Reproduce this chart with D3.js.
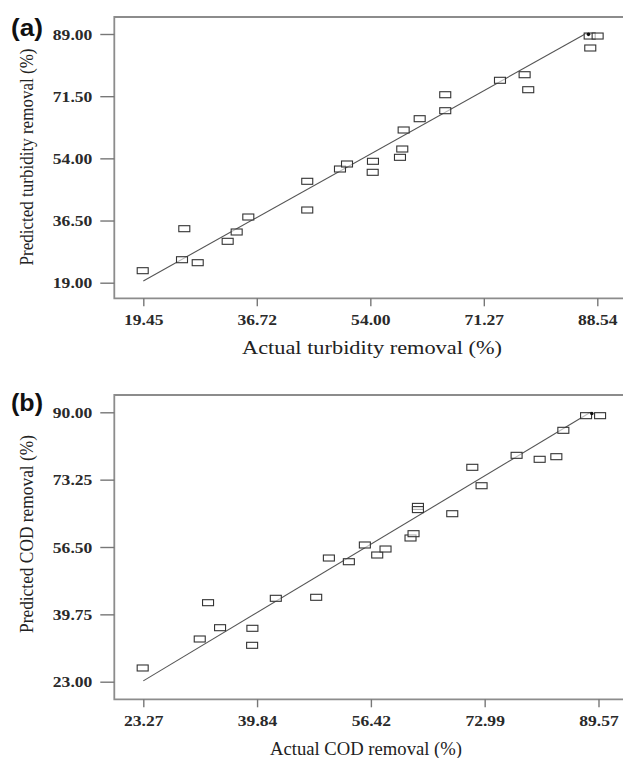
<!DOCTYPE html>
<html>
<head>
<meta charset="utf-8">
<script src="https://cdn.jsdelivr.net/npm/d3@7"></script>
<style>
  body { margin: 0; background: #fff; }
  svg { display: block; }
</style>
</head>
<body>
<div id="chart"></div>
<script>
// panel (a) - turbidity
var turbActual = [19.36, 25.69, 25.34, 27.73, 32.29, 33.66, 35.43, 44.40, 44.40, 49.38, 50.45, 54.40, 54.36,
  58.51, 58.86, 59.07, 61.51, 65.40, 65.40, 73.73, 77.48, 78.03, 87.38, 88.59, 87.47];
var turbPred = [22.38, 34.20, 25.47, 24.63, 30.65, 33.27, 37.49, 47.54, 39.46, 51.00, 52.41, 53.17, 50.07,
  54.29, 56.63, 61.98, 65.16, 67.41, 71.91, 75.97, 77.54, 73.32, 88.43, 88.43, 85.06];
var turbXTicks = [19.45, 36.72, 54.00, 71.27, 88.54];
var turbYTicks = [19.00, 36.50, 54.00, 71.50, 89.00];
var turbFitX = [19.45, 86.9], turbFitY = [19.5, 89.2];
var turbMark = [87.2, 88.9];

// panel (b) - COD
var codActual = [23.18, 31.49, 32.70, 34.45, 39.16, 39.12, 42.57, 48.45, 50.30, 53.21, 55.54, 57.34, 58.55,
  62.19, 62.63, 63.27, 63.27, 68.27, 71.19, 72.54, 77.64, 81.00, 83.43, 84.45, 87.76, 89.80];
var codPred = [26.41, 33.62, 42.65, 36.43, 36.28, 32.05, 43.74, 43.99, 53.76, 52.84, 57.00, 54.51, 56.00,
  58.74, 59.81, 66.6, 65.8, 64.78, 76.32, 71.74, 79.30, 78.31, 78.96, 85.52, 89.16, 89.16];
var codXTicks = [23.27, 39.84, 56.42, 72.99, 89.57];
var codYTicks = [23.00, 39.75, 56.50, 73.25, 90.00];
var codFitX = [23.27, 88.4], codFitY = [23.2, 90.0];
var codMark = [88.6, 89.7];

var W = 623, H = 758;
var serif = "'Liberation Serif', 'Times New Roman', serif";
var stretch = 1.17; // the source image is a bit wide

var svg = d3.select("#chart").append("svg")
    .attr("width", W)
    .attr("height", H);

function panel(opt) {
  var g = svg.append("g");
  var left = 114.3, top = opt.top, bottom = opt.bottom;

  var x = d3.scaleLinear().domain(opt.xDomain).range([143.3, opt.xEnd]);
  var y = d3.scaleLinear().domain(opt.yDomain).range(opt.yRange);

  // frame (right side runs off the picture)
  g.append("path")
      .attr("d", "M" + (W + 5) + "," + top + "H" + left + "V" + bottom + "H" + (W + 5))
      .attr("fill", "none")
      .attr("stroke", "#8c8c8c")
      .attr("stroke-width", 1.8);

  var xAxis = g.append("g")
      .attr("transform", "translate(0," + bottom + ")")
      .call(d3.axisBottom(x).tickValues(opt.xTicks).tickFormat(d3.format(".2f")).tickSize(8).tickSizeOuter(0));
  xAxis.select(".domain").remove();
  xAxis.selectAll("line").attr("stroke", "#777").attr("stroke-width", 1.4);
  xAxis.selectAll("text")
      .attr("y", 27).attr("dy", null)
      .attr("transform", "scale(" + stretch + ",1)")
      .attr("font-family", serif).attr("font-size", 15).attr("font-weight", "bold")
      .attr("fill", "#2a2a2a");

  var yAxis = g.append("g")
      .attr("transform", "translate(" + left + ",0)")
      .call(d3.axisLeft(y).tickValues(opt.yTicks).tickFormat(d3.format(".2f")).tickSize(14).tickSizeOuter(0));
  yAxis.select(".domain").remove();
  yAxis.selectAll("line").attr("stroke", "#777").attr("stroke-width", 1.4);
  yAxis.selectAll("text")
      .attr("x", -22 / stretch).attr("dy", "0.35em")
      .attr("transform", "scale(" + stretch + ",1)")
      .attr("font-family", serif).attr("font-size", 15).attr("font-weight", "bold")
      .attr("fill", "#2a2a2a");

  // fit line
  g.append("line")
      .attr("x1", x(opt.fitX[0])).attr("y1", y(opt.fitY[0]))
      .attr("x2", x(opt.fitX[1])).attr("y2", y(opt.fitY[1]))
      .attr("stroke", "#555")
      .attr("stroke-width", 1.1);

  // points
  var pts = d3.zip(opt.xs, opt.ys);
  g.selectAll("rect.pt")
    .data(pts)
    .enter().append("rect")
      .attr("class", "pt")
      .attr("x", function(d) { return x(d[0]) - 5.5; })
      .attr("y", function(d) { return y(d[1]) - 3; })
      .attr("width", 11)
      .attr("height", 6)
      .attr("fill", "#fff")
      .attr("fill-opacity", 0.6)
      .attr("stroke", "#333")
      .attr("stroke-width", 1.1);

  g.append("circle")
      .attr("cx", x(opt.mark[0])).attr("cy", y(opt.mark[1]))
      .attr("r", 1.8)
      .attr("fill", "#111");

  // titles
  g.append("text")
      .attr("x", opt.xTitleX).attr("y", bottom + 56)
      .attr("text-anchor", "middle")
      .attr("textLength", opt.xTitleLen).attr("lengthAdjust", "spacingAndGlyphs")
      .attr("font-family", serif).attr("font-size", 18)
      .attr("fill", "#222")
      .text(opt.xTitle);

  g.append("text")
      .attr("transform", "translate(33," + opt.yTitleY + ") rotate(-90)")
      .attr("text-anchor", "middle")
      .attr("textLength", opt.yTitleLen).attr("lengthAdjust", "spacingAndGlyphs")
      .attr("font-family", serif).attr("font-size", 18)
      .attr("fill", "#222")
      .text(opt.yTitle);

  g.append("text")
      .attr("x", 11).attr("y", opt.labelY)
      .attr("textLength", 32).attr("lengthAdjust", "spacingAndGlyphs")
      .attr("font-family", "'Liberation Sans', Arial, sans-serif")
      .attr("font-size", 24).attr("font-weight", "bold")
      .attr("fill", "#111")
      .text(opt.label);
}

panel({
  top: 17, bottom: 298.3,
  xDomain: [19.45, 88.54], xEnd: 597.3,
  yDomain: [19, 89], yRange: [282.7, 34],
  xTicks: turbXTicks, yTicks: turbYTicks,
  xs: turbActual, ys: turbPred,
  fitX: turbFitX, fitY: turbFitY, mark: turbMark,
  xTitle: "Actual turbidity removal (%)", xTitleX: 372, xTitleLen: 260,
  yTitle: "Predicted turbidity removal (%)", yTitleY: 157, yTitleLen: 217,
  label: "(a)", labelY: 36
});

panel({
  top: 395, bottom: 699.3,
  xDomain: [23.27, 89.57], xEnd: 598.5,
  yDomain: [23, 90], yRange: [681.7, 412.3],
  xTicks: codXTicks, yTicks: codYTicks,
  xs: codActual, ys: codPred,
  fitX: codFitX, fitY: codFitY, mark: codMark,
  xTitle: "Actual COD removal (%)", xTitleX: 366, xTitleLen: 192,
  yTitle: "Predicted COD removal (%)", yTitleY: 534, yTitleLen: 198,
  label: "(b)", labelY: 411
});
</script>
</body>
</html>
